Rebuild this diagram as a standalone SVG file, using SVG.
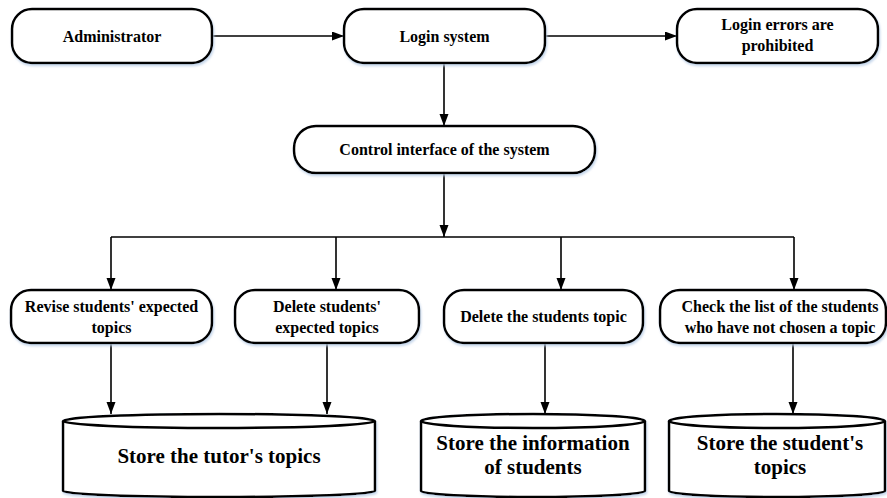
<svg xmlns="http://www.w3.org/2000/svg" width="887" height="498" viewBox="0 0 887 498">
<defs>
<marker id="arr" markerUnits="userSpaceOnUse" markerWidth="13" markerHeight="10" refX="12" refY="4.5" orient="auto">
<path d="M0,0 L12,4.5 L0,9 Z" fill="#000"/>
</marker>
<filter id="sh" x="-5%" y="-10%" width="110%" height="130%">
<feDropShadow dx="1" dy="2" stdDeviation="1" flood-color="#b8cde6" flood-opacity="0.8"/>
</filter>
</defs>
<style>
.box{fill:#fff;stroke:#000;stroke-width:2.5;filter:url(#sh)}
.cyl{fill:#fff;stroke:#000;stroke-width:2.5;filter:url(#sh)}
.lid{fill:none;stroke:#000;stroke-width:2.5}
text{font-family:'Times New Roman','Liberation Serif','DejaVu Serif',serif;font-weight:bold;fill:#000;text-anchor:middle}
.t{font-size:16px}
.tb{font-size:21px}
.c{fill:none;stroke:#000;stroke-width:1.6}
.ca{fill:none;stroke:#000;stroke-width:1.6;marker-end:url(#arr)}
</style>
<rect width="887" height="498" fill="#fff"/>
<g id="connectors">
<path class="ca" d="M212,36 H344"/>
<path class="ca" d="M545,36 H677"/>
<path class="ca" d="M444,63 V126"/>
<path class="ca" d="M444,173 V237"/>
<path class="c" d="M111,237 H794"/>
<path class="ca" d="M111,237 V290"/>
<path class="ca" d="M336,237 V290"/>
<path class="ca" d="M561,237 V290"/>
<path class="ca" d="M794,237 V290"/>
<path class="ca" d="M111,343 V414"/>
<path class="ca" d="M327,343 V414"/>
<path class="ca" d="M545,343 V414"/>
<path class="ca" d="M793,343 V414"/>
</g>
<g id="administrator">
<rect class="box" x="12" y="9" width="200" height="54" rx="20"/>
<text class="t" x="112" y="42">Administrator</text>
</g>
<g id="login-system">
<rect class="box" x="344" y="9" width="201" height="54" rx="20"/>
<text class="t" x="444.5" y="42">Login system</text>
</g>
<g id="login-errors">
<rect class="box" x="677" y="9" width="201" height="54" rx="20"/>
<text class="t" x="777.5" y="30">Login errors are</text>
<text class="t" x="777.5" y="51">prohibited</text>
</g>
<g id="control-interface">
<rect class="box" x="294" y="126" width="301" height="47" rx="22"/>
<text class="t" x="444.5" y="155">Control interface of the system</text>
</g>
<g id="revise">
<rect class="box" x="11" y="290" width="201" height="53" rx="20"/>
<text class="t" x="111.5" y="312">Revise students' expected</text>
<text class="t" x="111.5" y="333">topics</text>
</g>
<g id="delete-expected">
<rect class="box" x="235" y="290" width="184" height="53" rx="20"/>
<text class="t" x="327" y="312">Delete students'</text>
<text class="t" x="327" y="333">expected topics</text>
</g>
<g id="delete-topic">
<rect class="box" x="444" y="290" width="199" height="53" rx="20"/>
<text class="t" x="543.5" y="322">Delete the students topic</text>
</g>
<g id="check-list">
<rect class="box" x="660" y="290" width="226" height="53" rx="20"/>
<text class="t" x="780" y="312">Check the list of the students</text>
<text class="t" x="780" y="333">who have not chosen a topic</text>
</g>
<g id="store-tutor">
<path class="cyl" d="M63,421 V491 A156,6 0 0 0 375,491 V421 A156,7 0 0 0 63,421 Z"/>
<path class="lid" d="M63,421 A156,7 0 0 0 375,421"/>
<text class="tb" x="219" y="463">Store the tutor's topics</text>
</g>
<g id="store-info">
<path class="cyl" d="M421,421 V491 A112,6 0 0 0 645,491 V421 A112,7 0 0 0 421,421 Z"/>
<path class="lid" d="M421,421 A112,7 0 0 0 645,421"/>
<text class="tb" x="533" y="450">Store the information</text>
<text class="tb" x="533" y="474">of students</text>
</g>
<g id="store-student">
<path class="cyl" d="M669,421 V491 A108,6 0 0 0 885,491 V421 A108,7 0 0 0 669,421 Z"/>
<path class="lid" d="M669,421 A108,7 0 0 0 885,421"/>
<text class="tb" x="780" y="450">Store the student's</text>
<text class="tb" x="780" y="474">topics</text>
</g>
</svg>
